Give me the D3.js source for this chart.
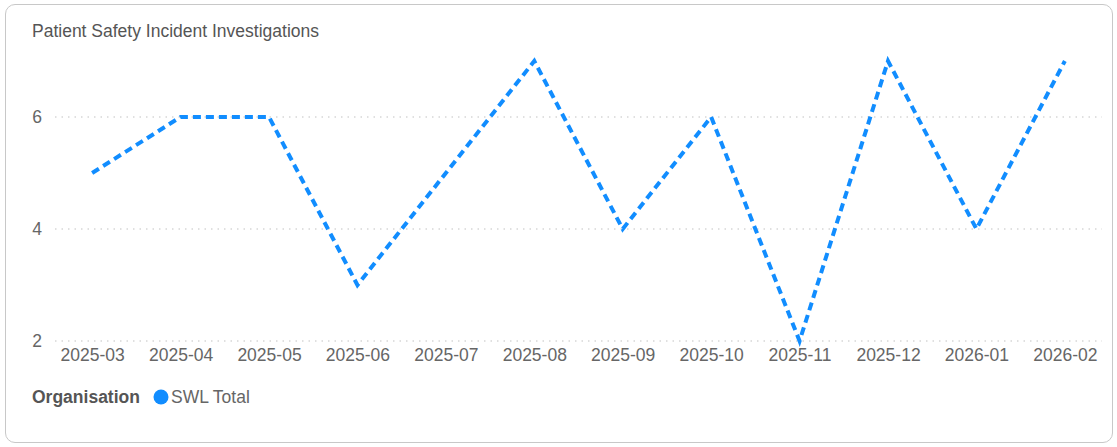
<!DOCTYPE html>
<html>
<head>
<meta charset="utf-8">
<script src="https://cdn.jsdelivr.net/npm/d3@7"></script>
<style>
  body { margin: 0; background: #fff; font-family: "Liberation Sans", Arial, sans-serif; }
  .card { position: absolute; left: 5px; top: 4px; width: 1108px; height: 439px;
          border: 1.5px solid #c8c8c8; border-radius: 10px; box-sizing: border-box; }
</style>
</head>
<body>
<div class="card"></div>
<svg id="chart" style="position:absolute;left:0;top:0"></svg>
<script>
const months = ["2025-03","2025-04","2025-05","2025-06","2025-07","2025-08",
                "2025-09","2025-10","2025-11","2025-12","2026-01","2026-02"];
const swlTotal = [5, 6, 6, 3, 5, 7, 4, 6, 2, 7, 4, 7];
const yTicks = [2, 4, 6];

const W = 1117, H = 447;
const FS = 17.5;
const svg = d3.select("#chart").attr("width", W).attr("height", H);

svg.append("text")
    .attr("x", 32).attr("y", 37)
    .attr("font-size", FS).attr("fill", "#555")
    .text("Patient Safety Incident Investigations");

const x = d3.scalePoint().domain(months).range([55, 1102]).padding(0.42);
const y = d3.scaleLinear().domain([2, 7]).range([341, 61]);

// gridlines
svg.append("g").selectAll("line")
    .data(yTicks).join("line")
    .attr("x1", 55).attr("x2", 1102)
    .attr("y1", d => y(d)).attr("y2", d => y(d))
    .attr("stroke", "#d6d6d6").attr("stroke-width", 1.5)
    .attr("stroke-dasharray", "1.5,5");

const yaxis = svg.append("g")
    .attr("transform", "translate(42,0)")
    .call(d3.axisLeft(y).tickValues(yTicks).tickFormat(d3.format("d")).tickSize(0).tickPadding(0));
yaxis.select(".domain").remove();
yaxis.selectAll("text").attr("font-size", FS).attr("fill", "#666")
    .attr("font-family", "Liberation Sans, Arial, sans-serif");

const xaxis = svg.append("g")
    .attr("transform", "translate(0,347)")
    .call(d3.axisBottom(x).tickSize(0).tickPadding(2));
xaxis.select(".domain").remove();
xaxis.selectAll("text").attr("font-size", FS).attr("fill", "#666")
    .attr("font-family", "Liberation Sans, Arial, sans-serif");

const line = d3.line()
    .x((d, i) => x(months[i]))
    .y(d => y(d));

svg.append("path")
    .datum(swlTotal)
    .attr("d", line)
    .attr("fill", "none")
    .attr("stroke", "#118DFF")
    .attr("stroke-width", 4)
    .attr("stroke-dasharray", "8,5");

// legend
const legend = svg.append("g").attr("transform", "translate(32,403)");
legend.append("text")
    .attr("font-size", FS).attr("font-weight", "bold").attr("fill", "#555")
    .text("Organisation");
legend.append("circle")
    .attr("cx", 129).attr("cy", -6).attr("r", 7.5)
    .attr("fill", "#118DFF");
legend.append("text")
    .attr("x", 139)
    .attr("font-size", FS).attr("fill", "#666")
    .text("SWL Total");
</script>
</body>
</html>
